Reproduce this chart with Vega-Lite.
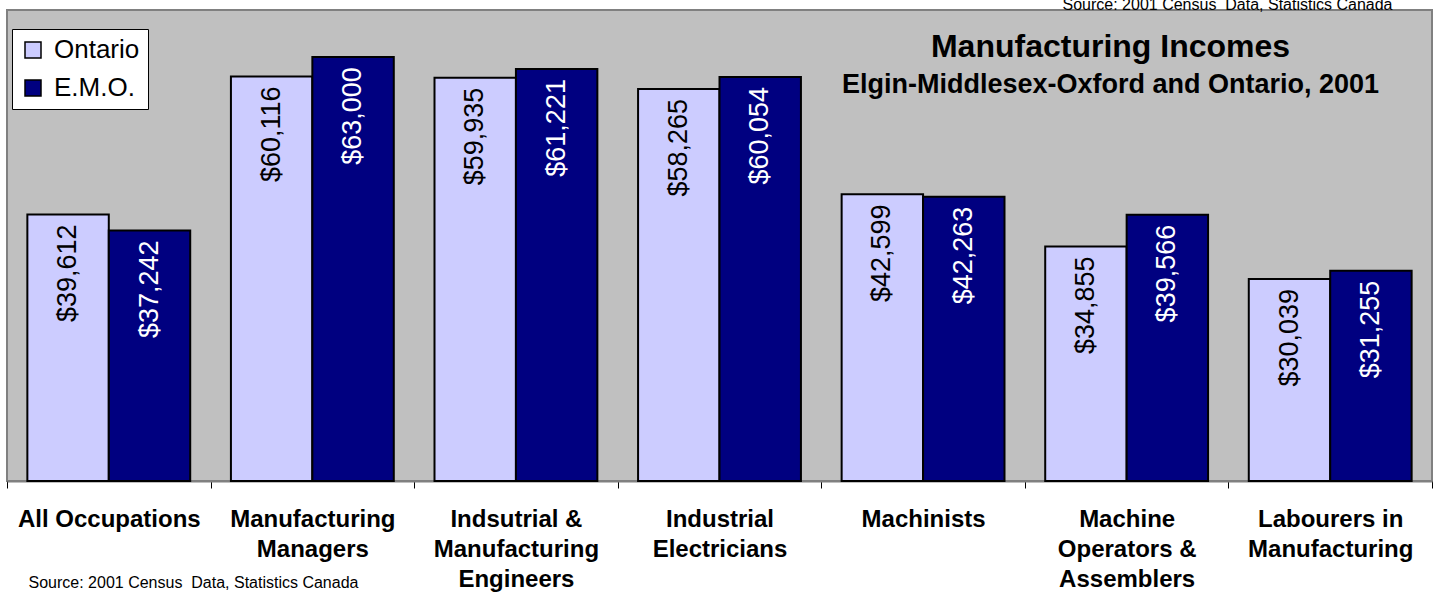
{
  "$schema": "https://vega.github.io/schema/vega-lite/v6.json",
  "width": 1425,
  "height": 471,
  "autosize": {"type": "none"},
  "padding": {"left": 7, "top": 10, "right": 10, "bottom": 117},
  "background": "white",
  "title": {
    "text": "Manufacturing Incomes",
    "subtitle": "Elgin-Middlesex-Oxford and Ontario, 2001",
    "anchor": "middle",
    "frame": "group",
    "dx": 391,
    "dy": 107,
    "font": "Liberation Sans",
    "fontSize": 32,
    "fontWeight": "bold",
    "color": "black",
    "subtitleFont": "Liberation Sans",
    "subtitleFontSize": 27,
    "subtitleFontWeight": "bold",
    "subtitleColor": "black",
    "subtitlePadding": 8
  },
  "data": {
    "values": [
      {"category": "All Occupations", "series": "Ontario", "value": 39612},
      {"category": "All Occupations", "series": "E.M.O.", "value": 37242},
      {"category": "Manufacturing|Managers", "series": "Ontario", "value": 60116},
      {"category": "Manufacturing|Managers", "series": "E.M.O.", "value": 63000},
      {"category": "Indsutrial &|Manufacturing|Engineers", "series": "Ontario", "value": 59935},
      {"category": "Indsutrial &|Manufacturing|Engineers", "series": "E.M.O.", "value": 61221},
      {"category": "Industrial|Electricians", "series": "Ontario", "value": 58265},
      {"category": "Industrial|Electricians", "series": "E.M.O.", "value": 60054},
      {"category": "Machinists", "series": "Ontario", "value": 42599},
      {"category": "Machinists", "series": "E.M.O.", "value": 42263},
      {"category": "Machine|Operators &|Assemblers", "series": "Ontario", "value": 34855},
      {"category": "Machine|Operators &|Assemblers", "series": "E.M.O.", "value": 39566},
      {"category": "Labourers in|Manufacturing", "series": "Ontario", "value": 30039},
      {"category": "Labourers in|Manufacturing", "series": "E.M.O.", "value": 31255}
    ]
  },
  "encoding": {
    "x": {
      "field": "category",
      "type": "nominal",
      "sort": null,
      "scale": {"paddingInner": 0, "paddingOuter": 0},
      "axis": {
        "orient": "bottom",
        "title": "Source: 2001 Census \u00a0Data, Statistics Canada",
        "titleX": 21,
        "titleY": 106.7,
        "titleAlign": "left",
        "titleAnchor": "start",
        "titleBaseline": "alphabetic",
        "titleFont": "Liberation Sans",
        "titleFontSize": 16,
        "titleFontWeight": "normal",
        "titleColor": "black",
        "labelExpr": "split(datum.label, '|')",
        "labelAngle": 0,
        "labelFont": "Liberation Sans",
        "labelFontSize": 24,
        "labelFontWeight": "bold",
        "labelColor": "black",
        "labelLineHeight": 30,
        "labelPadding": 19,
        "labelBaseline": "top",
        "labelLimit": 400,
        "tickBand": "extent",
        "tickSize": 7,
        "tickColor": "black",
        "tickWidth": 1,
        "domain": true,
        "domainColor": "#808080",
        "domainWidth": 2,
        "grid": false
      }
    },
    "xOffset": {
      "field": "series",
      "type": "nominal",
      "sort": ["Ontario", "E.M.O."],
      "scale": {"paddingInner": 0, "paddingOuter": 0.25}
    },
    "y": {
      "field": "value",
      "type": "quantitative",
      "scale": {"domain": [0, 70000], "nice": false},
      "axis": {
        "orient": "right",
        "domain": false,
        "ticks": false,
        "labels": false,
        "grid": false,
        "title": "Source: 2001 Census \u00a0Data, Statistics Canada",
        "titleAngle": 0,
        "titleAlign": "right",
        "titleBaseline": "alphabetic",
        "titleX": -40,
        "titleY": -1,
        "titleFont": "Liberation Sans",
        "titleFontSize": 16,
        "titleFontWeight": "normal",
        "titleColor": "black"
      }
    }
  },
  "layer": [
    {
      "mark": {"type": "bar", "stroke": "black", "strokeWidth": 2, "opacity": 1},
      "encoding": {
        "color": {
          "field": "series",
          "type": "nominal",
          "scale": {"domain": ["Ontario", "E.M.O."], "range": ["#CCCCFF", "#000080"]},
          "legend": {
            "orient": "none",
            "legendX": 5,
            "legendY": 19,
            "title": null,
            "fillColor": "white",
            "strokeColor": "black",
            "padding": 8,
            "symbolType": "square",
            "symbolSize": 256,
            "symbolStrokeColor": "black",
            "symbolStrokeWidth": 1.5,
            "symbolOpacity": 1,
            "labelFont": "Liberation Sans",
            "labelFontSize": 26,
            "labelColor": "black",
            "labelOffset": 8,
            "rowPadding": 12
          }
        }
      }
    },
    {
      "mark": {
        "type": "text",
        "angle": 270,
        "align": "right",
        "baseline": "middle",
        "dx": -10,
        "font": "Liberation Sans",
        "fontSize": 27
      },
      "encoding": {
        "text": {"field": "value", "type": "quantitative", "format": "$,d"},
        "color": {
          "condition": {"test": "datum.series === 'E.M.O.'", "value": "white"},
          "value": "black"
        }
      }
    }
  ],
  "config": {
    "font": "Liberation Sans",
    "view": {"fill": "#C0C0C0", "stroke": "#808080", "strokeWidth": 2}
  }
}
